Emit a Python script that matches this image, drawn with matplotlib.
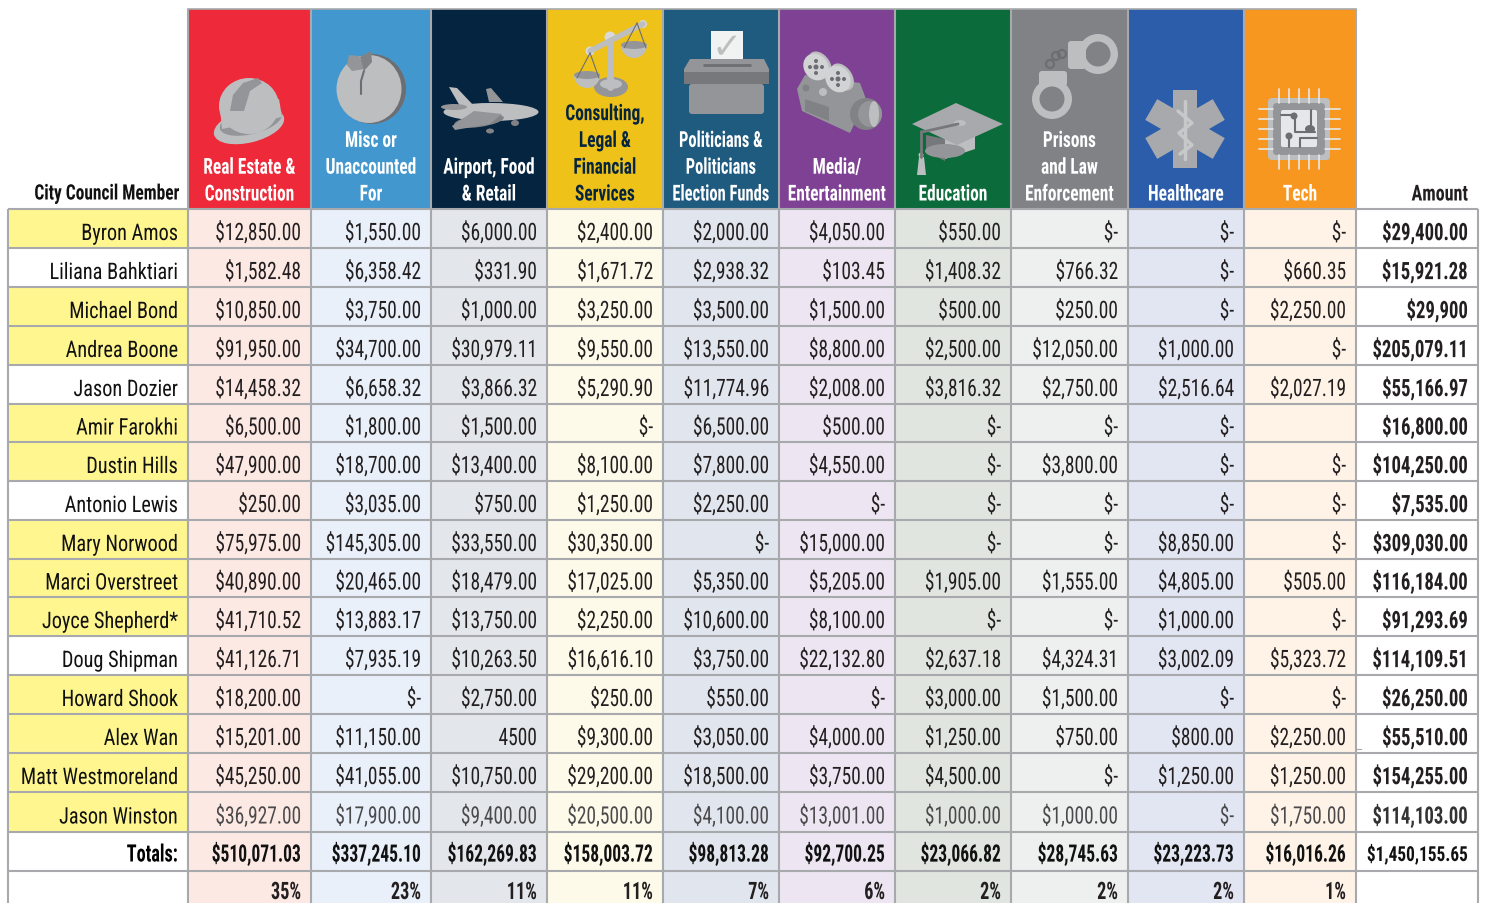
import numpy as np
import matplotlib
matplotlib.use("Agg")
import matplotlib.pyplot as plt
from matplotlib import font_manager as fm
from matplotlib.patches import Rectangle, Ellipse, Circle, Polygon, Wedge, FancyBboxPatch
from matplotlib.patheffects import AbstractPathEffect
from matplotlib.text import Text
from matplotlib.transforms import Affine2D, Bbox

members = ["Byron Amos", "Liliana Bahktiari", "Michael Bond", "Andrea Boone", "Jason Dozier", "Amir Farokhi",
           "Dustin Hills", "Antonio Lewis", "Mary Norwood", "Marci Overstreet", "Joyce Shepherd*", "Doug Shipman",
           "Howard Shook", "Alex Wan", "Matt Westmoreland", "Jason Winston"]
highlighted = [1, 0, 1, 1, 0, 1, 1, 0, 1, 1, 1, 0, 1, 1, 1, 1]

real_estate = ["$12,850.00", "$1,582.48", "$10,850.00", "$91,950.00", "$14,458.32", "$6,500.00", "$47,900.00", "$250.00",
               "$75,975.00", "$40,890.00", "$41,710.52", "$41,126.71", "$18,200.00", "$15,201.00", "$45,250.00", "$36,927.00"]
misc = ["$1,550.00", "$6,358.42", "$3,750.00", "$34,700.00", "$6,658.32", "$1,800.00", "$18,700.00", "$3,035.00",
        "$145,305.00", "$20,465.00", "$13,883.17", "$7,935.19", "$-", "$11,150.00", "$41,055.00", "$17,900.00"]
airport = ["$6,000.00", "$331.90", "$1,000.00", "$30,979.11", "$3,866.32", "$1,500.00", "$13,400.00", "$750.00",
           "$33,550.00", "$18,479.00", "$13,750.00", "$10,263.50", "$2,750.00", "4500", "$10,750.00", "$9,400.00"]
consulting = ["$2,400.00", "$1,671.72", "$3,250.00", "$9,550.00", "$5,290.90", "$-", "$8,100.00", "$1,250.00",
              "$30,350.00", "$17,025.00", "$2,250.00", "$16,616.10", "$250.00", "$9,300.00", "$29,200.00", "$20,500.00"]
politicians = ["$2,000.00", "$2,938.32", "$3,500.00", "$13,550.00", "$11,774.96", "$6,500.00", "$7,800.00", "$2,250.00",
               "$-", "$5,350.00", "$10,600.00", "$3,750.00", "$550.00", "$3,050.00", "$18,500.00", "$4,100.00"]
media = ["$4,050.00", "$103.45", "$1,500.00", "$8,800.00", "$2,008.00", "$500.00", "$4,550.00", "$-",
         "$15,000.00", "$5,205.00", "$8,100.00", "$22,132.80", "$-", "$4,000.00", "$3,750.00", "$13,001.00"]
education = ["$550.00", "$1,408.32", "$500.00", "$2,500.00", "$3,816.32", "$-", "$-", "$-",
             "$-", "$1,905.00", "$-", "$2,637.18", "$3,000.00", "$1,250.00", "$4,500.00", "$1,000.00"]
prisons = ["$-", "$766.32", "$250.00", "$12,050.00", "$2,750.00", "$-", "$3,800.00", "$-",
           "$-", "$1,555.00", "$-", "$4,324.31", "$1,500.00", "$750.00", "$-", "$1,000.00"]
healthcare = ["$-", "$-", "$-", "$1,000.00", "$2,516.64", "$-", "$-", "$-",
              "$8,850.00", "$4,805.00", "$1,000.00", "$3,002.09", "$-", "$800.00", "$1,250.00", "$-"]
tech = ["$-", "$660.35", "$2,250.00", "$-", "$2,027.19", "", "$-", "$-",
        "$-", "$505.00", "$-", "$5,323.72", "$-", "$2,250.00", "$1,250.00", "$1,750.00"]
amount = ["$29,400.00", "$15,921.28", "$29,900", "$205,079.11", "$55,166.97", "$16,800.00", "$104,250.00", "$7,535.00",
          "$309,030.00", "$116,184.00", "$91,293.69", "$114,109.51", "$26,250.00", "$55,510.00", "$154,255.00", "$114,103.00"]
totals = ["$510,071.03", "$337,245.10", "$162,269.83", "$158,003.72", "$98,813.28", "$92,700.25",
          "$23,066.82", "$28,745.63", "$23,223.73", "$16,016.26", "$1,450,155.65"]
shares = ["35%", "23%", "11%", "11%", "7%", "6%", "2%", "2%", "2%", "1%"]
columns = [real_estate, misc, airport, consulting, politicians, media, education, prisons, healthcare, tech]
headers = [["Real Estate &", "Construction"], ["Misc or", "Unaccounted", "For"], ["Airport, Food", "& Retail"],
           ["Consulting,", "Legal &", "Financial", "Services"], ["Politicians &", "Politicians", "Election Funds"],
           ["Media/", "Entertainment"], ["Education"], ["Prisons", "and Law", "Enforcement"], ["Healthcare"], ["Tech"]]
head_colors = ["#ee2a3a", "#4397cf", "#05243f", "#eec218", "#1f5a7f", "#7f4194", "#0c6b3a", "#808285", "#2b5dab", "#f8971f"]
tints = ["#fde9e3", "#e9f0f9", "#e3e6ea", "#fefae9", "#e1e5ed", "#ede6f2", "#e0e6df", "#eef0ef", "#e2e5f2", "#fef3e6"]
head_text = ["white", "white", "white", "#05243f", "white", "white", "white", "white", "white", "white"]

xe = [8, 188, 311, 431, 547, 663, 779, 895, 1011, 1128, 1244, 1356, 1478]
ye = [210, 249, 288, 327, 366, 405, 443, 482, 521, 560, 598, 637, 676, 715, 754, 793, 833, 872, 912]
GRID = "#a7a9ac"
L, M, D = "#bcbec0", "#939598", "#6d6e71"

avail = {f.name for f in fm.fontManager.ttflist}
FONT = next((f for f in ["Roboto Condensed", "Roboto", "DejaVu Sans"] if f in avail), "DejaVu Sans")

fig = plt.figure(figsize=(14.86, 9.04), dpi=100, facecolor="white")
ax = fig.add_axes([0, 0, 1, 1])
ax.set_xlim(0, 1486)
ax.set_ylim(904, 0)
ax.axis("off")


class Squeeze(AbstractPathEffect):
    """Narrows the drawn glyphs horizontally about the text's anchor."""
    def __init__(self, sx, x0):
        super().__init__()
        self.sx, self.x0 = sx, x0

    def draw_path(self, renderer, gc, tpath, affine, rgbFace=None):
        a = affine + Affine2D().translate(-self.x0, 0).scale(self.sx, 1).translate(self.x0, 0)
        renderer.draw_path(gc, tpath, a, rgbFace)


class NarrowText(Text):
    """Real text drawn condensed; the reported extent is the drawn one."""
    def __init__(self, x, y, s, sx, **kw):
        super().__init__(x, y, s, **kw)
        self.sx = sx
        self.set_path_effects([Squeeze(sx, x)])

    def get_window_extent(self, renderer=None, dpi=None):
        bb = super().get_window_extent(renderer, dpi)
        x0 = self.get_position()[0]
        return Bbox.from_extents(x0 + (bb.x0 - x0) * self.sx, bb.y0, x0 + (bb.x1 - x0) * self.sx, bb.y1)


def T(x, y, s, px=24, ha="right", color="#231f20", weight="normal", sx=0.81):
    ax.add_artist(NarrowText(x, y, s, sx, fontsize=px * 0.72, ha=ha, va="center_baseline", color=color,
                             weight=weight, family=FONT))


# cell fills
for r in range(len(ye) - 1):
    is_member = r < len(members)
    face = "#fff68f" if is_member and highlighted[r] else "white"
    ax.add_patch(Rectangle((xe[0], ye[r]), xe[1] - xe[0], ye[r + 1] - ye[r], fc=face, ec="none"))
    for c in range(10):
        ax.add_patch(Rectangle((xe[c + 1], ye[r]), xe[c + 2] - xe[c + 1], ye[r + 1] - ye[r], fc=tints[c], ec="none"))
# header
for c in range(10):
    ax.add_patch(Rectangle((xe[c + 1], 10), xe[c + 2] - xe[c + 1], 200, fc=head_colors[c], ec="none"))
# grid
for y in ye[:-1]:
    ax.plot([xe[0], xe[-1]], [y, y], color=GRID, lw=1.5, solid_capstyle="butt")
for i, x in enumerate(xe):
    top = 9.5 if 1 <= i <= 11 else 210
    ax.plot([x, x], [top, 904], color=GRID, lw=1.5, solid_capstyle="butt")
ax.plot([xe[1], xe[11]], [9.5, 9.5], color=GRID, lw=1.2)
ax.plot([1356, 1361], [750, 750], color=GRID, lw=0.8)

# body text
for r, name in enumerate(members):
    yc = (ye[r] + ye[r + 1]) / 2 + 2.5
    T(178, yc, name, color="#111111", px=22.8, sx=0.89)
    col = "#4a4a4c" if r == 15 else "#231f20"
    for c in range(10):
        T(xe[c + 2] - 10, yc, columns[c][r], color=col)
    T(1468, yc, amount[r], weight="bold", color="#231f20" if r != 15 else "#333333", sx=0.78)
yt = (ye[16] + ye[17]) / 2 + 1
T(178, yt, "Totals:", weight="bold", color="black", sx=0.76)
for c in range(10):
    T(xe[c + 2] - 10, yt, totals[c], weight="bold", color="#111111", sx=0.73)
T(1468, yt, totals[10], weight="bold", color="#111111", px=20.7, sx=0.835)
yp = (ye[17] + ye[18]) / 2 - 1
for c in range(10):
    T(xe[c + 2] - 10, yp, shares[c], weight="bold", color="#231f20", sx=0.76)

# header text
T(179, 193, "City Council Member", px=21.2, weight="bold", color="#111111", sx=0.82)
T(1468, 193, "Amount", px=22, weight="bold", color="#231f20", sx=0.82)
for c, lines in enumerate(headers):
    xc = (xe[c + 1] + xe[c + 2]) / 2
    for k, line in enumerate(reversed(lines)):
        T(xc, 193 - 26.8 * k, line, px=22, ha="center", color=head_text[c], weight="bold",
          sx=0.75 if c == 4 else 0.79)


# icons
def P(pts, fc, **kw):
    ax.add_patch(Polygon(pts, closed=True, fc=fc, ec="none", **kw))
def E(x, y, w, h, fc, a=0):
    ax.add_patch(Ellipse((x, y), w, h, angle=a, fc=fc, ec="none"))
def Ln(xs, ys, c, lw=1.5):
    ax.plot(xs, ys, color=c, lw=lw, solid_capstyle="round")
def R(x, y, w, h, fc, rad=2):
    ax.add_patch(FancyBboxPatch((x, y), w, h, boxstyle=f"round,pad=0,rounding_size={rad}", fc=fc, ec="none"))

# hard hat
E(249, 127, 72, 33, L, -14)
E(251, 122, 64, 26, M, -14)
E(249, 107, 60, 56, L)
P([(220, 110), (279, 100), (282, 118), (222, 130)], L)
P([(230, 112), (233, 96), (243, 84), (258, 79), (262, 84), (250, 92), (244, 112)], M)
# peach
E(372, 90, 68, 70, D)
E(369, 90, 65, 68, L)
P([(347, 66), (349, 56), (359, 57), (365, 70), (352, 72)], M)
P([(360, 58), (371, 52), (372, 63), (364, 72)], "#808285")
Ln([364, 361, 361], [72, 82, 95], D, 1.5)
# plane
P([(449, 88), (457, 89), (475, 108), (461, 109)], L)
P([(486, 90), (491, 89), (503, 103), (489, 103)], M)
E(491, 113, 95, 18, L)
E(454, 108, 26, 6, M)
E(479, 122, 50, 12, "#808285", -8)
P([(474, 112), (502, 115), (490, 125), (455, 131), (452, 127)], M)
E(515, 124, 8, 6, "#808285")
E(490, 132, 8, 5, "#808285")
# scales
Ln([610, 610], [42, 88], L, 5)
Ln([590, 643], [52, 25], L, 4)
E(610, 38, 11, 11, "#d8d9da")
E(590, 52, 9, 9, "#d8d9da")
E(643, 25, 8, 8, "#d8d9da")
E(611, 88, 34, 20, M)
E(611, 85, 22, 10, L)
for px_, py_ in [(587, 76), (634, 46)]:
    Ln([px_ - 10, px_ + 3], [py_ + 3, py_ - 22], D, 0.8)
    Ln([px_ + 12, px_ + 3], [py_ + 3, py_ - 22], D, 0.8)
    ax.add_patch(Wedge((px_, py_), 13, 0, 180, fc=L, ec="none"))
    E(px_, py_, 26, 8, M)
# ballot box
P([(711, 32), (743, 32), (743, 65), (711, 65)], "#f1f2f2")
ax.text(727, 48, "✓", fontsize=26, ha="center", va="center", color=L, family="DejaVu Sans")
P([(690, 60), (764, 60), (769, 70), (769, 85), (684, 85), (684, 70)], "#939598")
P([(684, 73), (769, 73), (769, 85), (684, 85)], "#77787b")
R(689, 85, 75, 30, "#939598", 3)
Ln([704, 750], [66, 66], "#6d6e71", 2)
# movie camera
P([(805, 76), (860, 84), (866, 100), (850, 134), (802, 112), (797, 90)], M)
for cx, cy in [(816, 68), (838, 80)]:
    E(cx + 4, cy - 2, 20, 30, L, -35)
    E(cx, cy, 24, 28, "#d1d3d4", -35)
    E(cx, cy, 5, 5, D)
    for a in [0, 90, 180, 270]:
        E(cx + 6 * np.cos(np.deg2rad(a)), cy + 6 * np.sin(np.deg2rad(a)), 4, 4, D)
E(866, 115, 32, 32, "#808285")
E(870, 115, 24, 26, M)
E(874, 115, 10, 26, L)
E(823, 93, 8, 8, L)
E(806, 89, 7, 7, "#808285")
P([(805, 100), (829, 108), (829, 122), (805, 112)], "#808285")
# graduation cap
P([(945, 136), (975, 128), (975, 150), (945, 160)], L)
P([(926, 136), (945, 140), (945, 162), (926, 152)], "#77787b")
E(945, 152, 40, 14, M)
P([(912, 125), (956, 104), (1003, 125), (957, 146)], "#a7a9ac")
E(960, 124, 12, 6, L)
Ln([922, 958], [133, 125], "#77787b", 2)
Ln([921, 921], [132, 158], "#77787b", 2)
P([(919, 158), (924, 158), (926, 176), (917, 176)], L)
E(921, 156, 5, 5, L)
# handcuffs
for cx, cy in [(1098, 55), (1052, 100)]:
    E(cx, cy, 40, 40, L)
    E(cx, cy, 25, 25, "#808285")
R(1068, 42, 18, 28, L, 3)
R(1039, 72, 28, 15, L, 3)
for cx, cy in [(1050, 65), (1056, 57), (1062, 55)]:
    ax.add_patch(Circle((cx, cy), 4, fc="none", ec=D, lw=1.6))
# star of life
for a in [0, 60, 120]:
    t = np.deg2rad(a)
    u, v = np.array([np.sin(t), -np.cos(t)]), np.array([np.cos(t), np.sin(t)])
    c0 = np.array([1185.0, 130.0])
    P([c0 + s1 * 39 * u + s2 * 12 * v for s1, s2 in [(1, 1), (1, -1), (-1, -1), (-1, 1)]], "#a7a9ac")
Ln([1185, 1185], [102, 160], "#c7c8ca", 2.5)
Ln([1178, 1192, 1179, 1192, 1180], [112, 124, 134, 146, 155], "#c7c8ca", 2.5)
# chip
for k in range(5):
    d = -20 + k * 10
    Ln([1299 + d, 1299 + d], [90, 104], "#e6e7e8", 1.2)
    Ln([1299 + d, 1299 + d], [156, 170], "#e6e7e8", 1.2)
    Ln([1259, 1273], [130 + d, 130 + d], "#e6e7e8", 1.2)
    Ln([1325, 1340], [130 + d, 130 + d], "#e6e7e8", 1.2)
R(1268, 99, 62, 62, "#bcbec0", 4)
R(1273, 104, 52, 52, "#939598", 4)
R(1281, 111, 36, 37, "#e6e7e8", 2)
Ln([1281, 1295, 1295, 1315], [116, 116, 133, 133], D, 1.5)
Ln([1311, 1311], [111, 130], D, 1.5)
Ln([1289, 1289], [148, 136], D, 1.5)
Ln([1300, 1300, 1317], [148, 139, 139], D, 1.5)
E(1294, 117, 7, 7, D)
E(1310, 130, 10, 8, D)
E(1289, 137, 7, 7, D)

fig.savefig("out.png", dpi=100)
